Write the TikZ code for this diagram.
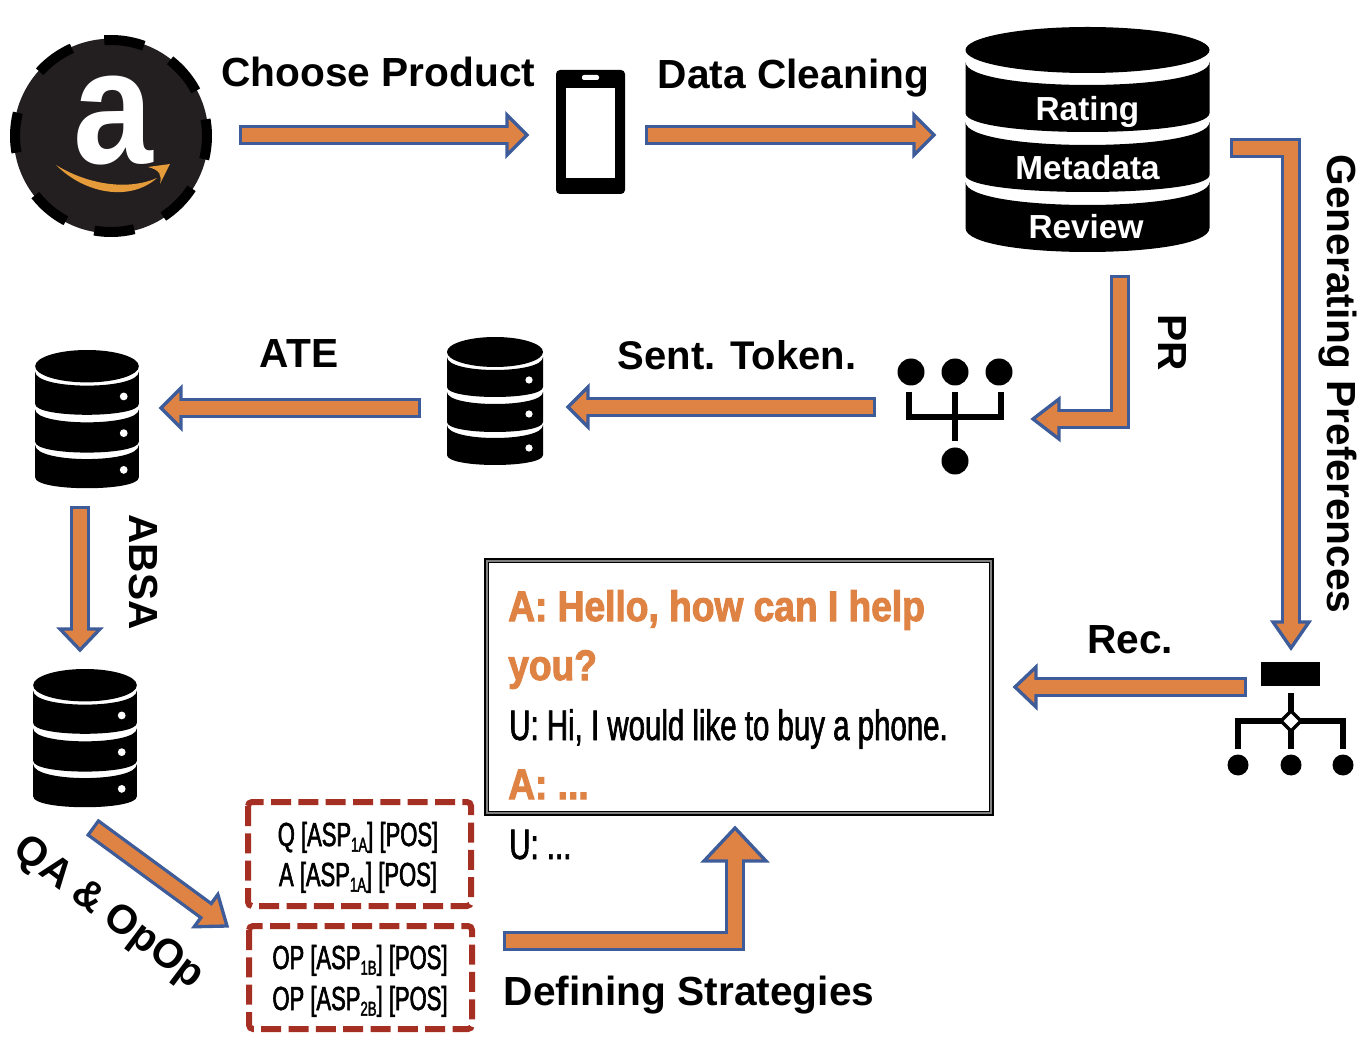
\documentclass[tikz,border=0pt]{standalone}
\usepackage{fontspec}
\usetikzlibrary{calc}
\setmainfont{Liberation Sans}
\newfontfamily\condfont[FakeStretch=0.69,FakeBold=1.4]{Liberation Sans}
\newfontfamily\condbold[FakeStretch=0.87,FakeBold=2.4]{Liberation Sans}
\newfontfamily\stratfont[FakeStretch=0.66,FakeBold=1.8]{Liberation Sans}
\newfontfamily\logofont[FakeStretch=0.88]{Liberation Sans}
\definecolor{flowfill}{HTML}{DF8344}
\definecolor{flowline}{HTML}{3D5C99}
\definecolor{stratred}{HTML}{A52F22}
\definecolor{logodark}{HTML}{231F20}
\definecolor{smile}{HTML}{E69B3A}
\tikzset{
  x=0.75pt,y=-0.75pt,
  lab/.style={font=\bfseries\fontsize{30.5}{36}\selectfont,inner sep=0pt,text=black},
  dblab/.style={font=\bfseries\fontsize{25}{30}\selectfont,inner sep=0pt,text=white},
  chatA/.style={anchor=base west,inner sep=0pt,text=flowfill,font=\condbold\bfseries\fontsize{32}{38}\selectfont},
  chatU/.style={anchor=base west,inner sep=0pt,text=black,font=\condfont\fontsize{32}{38}\selectfont},
  strat/.style={anchor=base,inner sep=0pt,text=black,font=\stratfont\fontsize{25}{30}\selectfont},
  stratbox/.style={draw=stratred,line width=4.5pt,rounded corners=3pt,dash pattern=on 15pt off 5.5pt},
  iconline/.style={draw=black,line width=5pt},
  dot/.style={circle,fill=black,inner sep=0pt,minimum size=#1*0.75pt},
  anchorpt/.style={inner sep=0pt,minimum size=0pt},
}
% block arrow: path, point before the tip, tip, head length, head half width (pixels)
\newcommand\flow[5]{%
  \draw[flowline,line width=15.5pt,line cap=butt,shorten >=#4*0.75pt] #1;
  \draw[draw=flowline,fill=flowfill,line width=2.5pt,line join=miter]
    (#3) -- ($(#3)!#4*0.75pt!(#2)!#5*0.75pt!90:(#2)$) -- ($(#3)!#4*0.75pt!(#2)!#5*0.75pt!-90:(#2)$) -- cycle;
  \draw[flowfill,line width=10.5pt,line cap=butt,shorten <=2.5pt,shorten >=#4*0.75pt-2.5pt] #1;
}
% database slice: half width, top edge, bottom edge, top curve depth, bottom curve depth
\newcommand\dbslice[5]{%
  \fill[black] (-#1,#2) .. controls (-#1,{#2+1.333*#4}) and (#1,{#2+1.333*#4}) .. (#1,#2)
     -- (#1,#3) .. controls (#1,{#3+1.333*#5}) and (-#1,{#3+1.333*#5}) .. (-#1,#3) -- cycle;
}
\newcommand\smalldb[4]{%
  \begin{scope}[shift={(#2,#3)},xscale=#4,yscale=#4]
    \node[anchorpt] (#1) at (0,64) {};
    \fill[black] (0,15) ellipse [x radius=48,y radius=15];
    \dbslice{48}{20}{50}{13}{10}
    \dbslice{48}{55}{85}{12}{10}
    \dbslice{48}{88}{118}{13}{10}
    \foreach \yy in {43,77,111} \fill[white] (34,\yy) circle [radius=3.6];
  \end{scope}%
}
\newcommand\subtxt[1]{\raisebox{-0.32ex}{\fontsize{15}{15}\selectfont #1}}
\begin{document}
\begin{tikzpicture}
\useasboundingbox (0,0) rectangle (1364,1044);
% Amazon logo
\coordinate (logoc) at (111,136);
\node[circle,fill=logodark,minimum size=146pt,inner sep=0pt] (logo) at (logoc) {};
\foreach \a in {82,126,178,230,272,315,358,40}
  \draw[black,line width=7.5pt,domain={\a-12}:{\a+12},samples=12,smooth]
    plot ({111+96*cos(\x)},{136-96*sin(\x)});
\node[inner sep=0pt,text=white,font=\logofont\bfseries\fontsize{122}{122}\selectfont,anchor=base] (logoa) at (113,164) {a};
\fill[smile] (56,165) .. controls (85,194) and (130,202) .. (157,178) .. controls (130,190) and (90,186) .. (56,165) -- cycle;
\fill[smile] (148,167) -- (170,164) -- (160,184) .. controls (162,175) and (160,170) .. (148,167) -- cycle;
% Phone
\node[fill=black,rounded corners=3pt,minimum width=51.75pt,minimum height=93pt,inner sep=0pt] (phone) at (590.5,132) {};
\fill[white] (566,88) rectangle (615,178);
\fill[white,rounded corners=1.5pt] (582,75) rectangle (599,80);
% Big database
\begin{scope}[shift={(1087.5,0)}]
  \node[anchorpt] (bigdb) at (0,139) {};
  \fill[black] (0,50) ellipse [x radius=122,y radius=23];
  \dbslice{122}{62}{113}{23}{19}
  \dbslice{122}{122}{175}{23}{17}
  \dbslice{122}{182}{228}{23}{24}
\end{scope}
\node[dblab] (rating) at (1087.5,112) {Rating};
\node[dblab] (meta) at (1087.5,168) {Metadata};
\node[dblab] (review) at (1086,227) {Review};
% Small databases
\smalldb{dbmid}{495}{337}{1}
\smalldb{dbate}{87}{350}{1.08}
\smalldb{dbabsa}{85}{669}{1.08}
% PR icon
\node[dot=27] (pra) at (911,372) {};
\node[dot=27] (prb) at (955,372) {};
\node[dot=27] (prc) at (999,372) {};
\node[dot=27] (prd) at (955,461) {};
\draw[iconline] (909,392) -- (909,417) -- (1001,417) -- (1001,392);
\draw[iconline] (955,392) -- (955,441);
% Rec icon
\node[fill=black,minimum width=44.25pt,minimum height=18pt,inner sep=0pt] (recbar) at (1290.5,674) {};
\draw[iconline] (1291,693) -- (1291,749);
\draw[iconline] (1238,749) -- (1238,721) -- (1343,721) -- (1343,749);
\node[dot=21] (reca) at (1238,765) {};
\node[dot=21] (recb) at (1291,765) {};
\node[dot=21] (recc) at (1343,765) {};
\draw[fill=white,draw=black,line width=2.5pt] (1291,711) -- (1301,721) -- (1291,731) -- (1281,721) -- cycle;
% Chat box
\fill[black] (484,558) rectangle (994,816);
\fill[gray] (486,560) rectangle (992,814);
\fill[black] (488,562) rectangle (990,812);
\node[fill=white,minimum width=375pt,minimum height=186pt,inner sep=0pt] (chat) at (739,687) {};
\node[chatA] (c1) at (508,621) {A: Hello, how can I help};
\node[chatA] (c2) at (508,680) {you?};
\node[chatU] (c3) at (509,740) {U: Hi, I would like to buy a phone.};
\node[chatA] (c4) at (508,799) {A: ...};
\node[chatU] (c5) at (509,859) {U: ...};
% Strategy boxes
\draw[stratbox] (248,802) rectangle (471,906);
\draw[stratbox] (249,926) rectangle (472,1029);
\node[strat] (s1) at (358,846) {Q [ASP\subtxt{1A}] [POS]};
\node[strat] (s2) at (358,886) {A [ASP\subtxt{1A}] [POS]};
\node[strat] (s3) at (360,969) {OP [ASP\subtxt{1B}] [POS]};
\node[strat] (s4) at (360,1010) {OP [ASP\subtxt{2B}] [POS]};
% Arrow ends
\coordinate (a1s) at (239,135); \coordinate (a1e) at (527,135);
\coordinate (a2s) at (645,135); \coordinate (a2e) at (934,135);
\coordinate (a3s) at (1230,148); \coordinate (a3c) at (1291,148); \coordinate (a3e) at (1291,648);
\coordinate (a4s) at (1120,275); \coordinate (a4c) at (1120,419); \coordinate (a4e) at (1033,419);
\coordinate (a5s) at (876,407); \coordinate (a5e) at (568,407);
\coordinate (a6s) at (421,408); \coordinate (a6e) at (161,408);
\coordinate (a7s) at (80,506); \coordinate (a7e) at (80,650);
\coordinate (a8s) at (92,827); \coordinate (a8e) at (227,926);
\coordinate (a9s) at (503,941); \coordinate (a9c) at (735,941); \coordinate (a9e) at (735,828);
\coordinate (a10s) at (1247,687); \coordinate (a10e) at (1015,687);
\flow{(a1s) -- (a1e)}{a1s}{a1e}{20}{20}
\flow{(a2s) -- (a2e)}{a2s}{a2e}{20}{20}
\flow{(a3s) -- (a3c) -- (a3e)}{a3c}{a3e}{26}{18}
\flow{(a4s) -- (a4c) -- (a4e)}{a4c}{a4e}{26}{20}
\flow{(a5s) -- (a5e)}{a5s}{a5e}{20}{20}
\flow{(a6s) -- (a6e)}{a6s}{a6e}{20}{20}
\flow{(a7s) -- (a7e)}{a7s}{a7e}{21}{20}
\flow{(a8s) -- (a8e)}{a8s}{a8e}{26}{20}
\flow{(a9s) -- (a9c) -- (a9e)}{a9c}{a9e}{33}{31}
\flow{(a10s) -- (a10e)}{a10s}{a10e}{21}{20}
% Labels
\node[lab] (l1) at (378.5,72) {Choose Product};
\node[lab] (l2) at (793.5,78) {Data Cleaning};
\node[lab,font=\bfseries\fontsize{30}{36}\selectfont] (l3) at (737,355) {Sent. Token.};
\node[lab] (l4) at (299,354) {ATE};
\node[lab] (l5) at (1130,640) {Rec.};
\node[lab] (l6) at (689,995) {Defining Strategies};
\node[lab,rotate=-90] (l7) at (1172,343) {PR};
\node[lab,rotate=-90] (l8) at (1338,384) {Generating Preferences};
\node[lab,rotate=-90] (l9) at (143,572) {ABSA};
\node[lab,rotate=-37] (l10) at (108,914) {QA \& OpOp};
\end{tikzpicture}
\end{document}
